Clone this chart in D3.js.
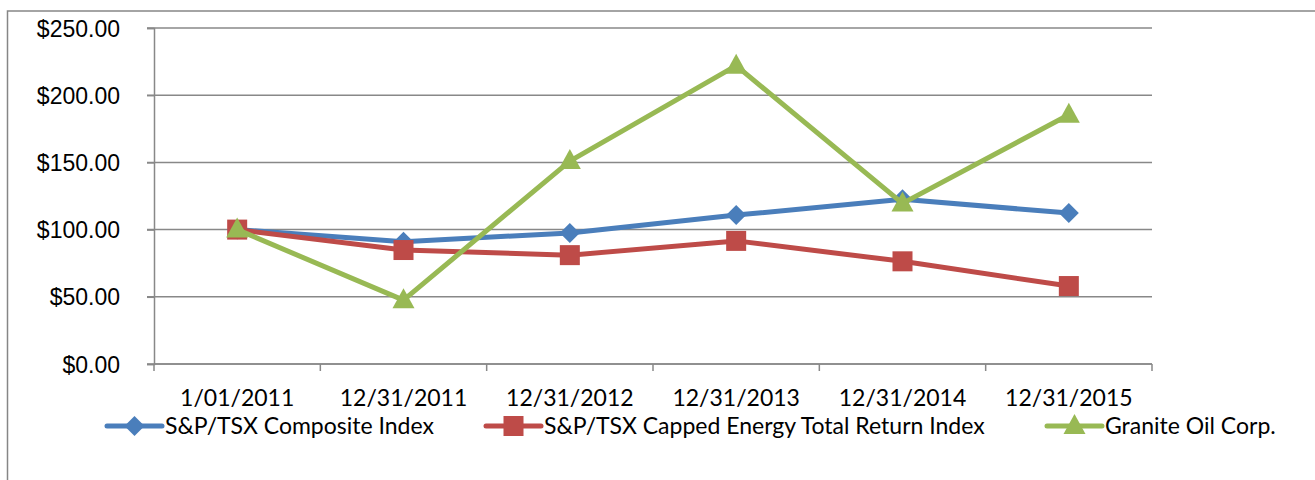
<!DOCTYPE html>
<html>
<head>
<meta charset="utf-8">
<script src="https://cdn.jsdelivr.net/npm/d3@7"></script>
<style>
  body { margin: 0; background: #fff; }
  svg { display: block; font-family: Lato, "Open Sans", sans-serif; }
</style>
</head>
<body>
<div id="chart"></div>
<script>
// data
const categories = ['1/01/2011', '12/31/2011', '12/31/2012', '12/31/2013', '12/31/2014', '12/31/2015'];
const compositeIndex = [100, 91, 97.5, 110.8, 122.5, 112.3];
const energyIndex = [100, 84.8, 81, 91.6, 76.4, 58];
const graniteOil = [100, 47.5, 151, 222, 119.5, 185.5];
const yTicks = [0, 50, 100, 150, 200, 250];

const seriesList = [
  { name: 'S&P/TSX Composite Index', values: compositeIndex, color: '#4a7ebb', marker: 'diamond' },
  { name: 'S&P/TSX Capped Energy Total Return Index', values: energyIndex, color: '#be4b48', marker: 'square' },
  { name: 'Granite Oil Corp.', values: graniteOil, color: '#98b954', marker: 'triangle' }
];

const width = 1315, height = 480;
const margin = { top: 28, right: 163, bottom: 116, left: 154 };
const fontSize = 23;

const svg = d3.select('#chart').append('svg')
  .attr('width', width)
  .attr('height', height);

// outer chart frame (runs off the right/bottom of the picture)
svg.append('rect')
  .attr('x', 7.5).attr('y', 11)
  .attr('width', width + 20).attr('height', height + 20)
  .attr('fill', 'none')
  .attr('stroke', '#868686')
  .attr('stroke-width', 1.5);

const x = d3.scaleBand()
  .domain(categories)
  .range([margin.left, width - margin.right]);

const y = d3.scaleLinear()
  .domain([0, 250])
  .range([height - margin.bottom, margin.top]);

// gridlines
svg.append('g')
  .selectAll('line')
  .data(yTicks)
  .enter().append('line')
  .attr('x1', margin.left - 7)
  .attr('x2', width - margin.right)
  .attr('y1', d => y(d))
  .attr('y2', d => y(d))
  .attr('stroke', '#888')
  .attr('stroke-width', 1.5);

// y axis
const yAxis = svg.append('g')
  .attr('transform', `translate(${margin.left},0)`)
  .call(d3.axisLeft(y).tickValues(yTicks).tickSize(7).tickPadding(27)
    .tickFormat(d => '$' + d3.format('.2f')(d)));
yAxis.select('.domain').attr('stroke', '#888').attr('stroke-width', 1.5);
yAxis.selectAll('.tick line').attr('stroke', '#888').attr('stroke-width', 1.5);
yAxis.selectAll('text').attr('font-size', fontSize).attr('fill', '#000').attr('dy', '0.35em');

// x axis with ticks at band edges
const xAxisG = svg.append('g')
  .attr('transform', `translate(0,${height - margin.bottom})`);
xAxisG.append('line')
  .attr('x1', margin.left).attr('x2', width - margin.right)
  .attr('stroke', '#888').attr('stroke-width', 1.5);
const edges = categories.map(c => x(c)).concat([x.range()[1]]);
xAxisG.selectAll('.edge')
  .data(edges)
  .enter().append('line')
  .attr('x1', d => d).attr('x2', d => d)
  .attr('y1', 0).attr('y2', 7)
  .attr('stroke', '#888').attr('stroke-width', 1.5);
xAxisG.selectAll('.lbl')
  .data(categories)
  .enter().append('text')
  .attr('x', d => x(d) + x.bandwidth() / 2)
  .attr('y', 42)
  .attr('text-anchor', 'middle')
  .attr('font-size', fontSize)
  .text(d => d);

function drawMarker(g, type, cx, cy, color) {
  if (type === 'diamond') {
    g.append('path')
      .attr('d', `M${cx},${cy - 10}L${cx + 10},${cy}L${cx},${cy + 10}L${cx - 10},${cy}Z`)
      .attr('fill', color);
  } else if (type === 'square') {
    g.append('rect')
      .attr('x', cx - 10).attr('y', cy - 10)
      .attr('width', 20).attr('height', 20)
      .attr('fill', color);
  } else {
    g.append('path')
      .attr('d', `M${cx},${cy - 12}L${cx + 11},${cy + 8}L${cx - 11},${cy + 8}Z`)
      .attr('fill', color);
  }
}

const line = d3.line()
  .x((d, i) => x(categories[i]) + x.bandwidth() / 2)
  .y(d => y(d));

seriesList.forEach(s => {
  const g = svg.append('g');
  g.append('path')
    .datum(s.values)
    .attr('d', line)
    .attr('fill', 'none')
    .attr('stroke', s.color)
    .attr('stroke-width', 5)
    .attr('stroke-linejoin', 'round');
  s.values.forEach((v, i) => {
    drawMarker(g, s.marker, x(categories[i]) + x.bandwidth() / 2, y(v), s.color);
  });
});

// legend
const legendY = 426;
const legendX = [107, 486, 1047];
seriesList.forEach((s, i) => {
  const g = svg.append('g').attr('transform', `translate(${legendX[i]},${legendY})`);
  g.append('line')
    .attr('x1', 0).attr('x2', 55)
    .attr('stroke', s.color).attr('stroke-width', 5)
    .attr('stroke-linecap', 'round');
  drawMarker(g, s.marker, 27.5, 0, s.color);
  g.append('text')
    .attr('x', 58).attr('y', 0)
    .attr('dy', '0.35em')
    .attr('font-size', fontSize)
    .text(s.name);
});
</script>
</body>
</html>
